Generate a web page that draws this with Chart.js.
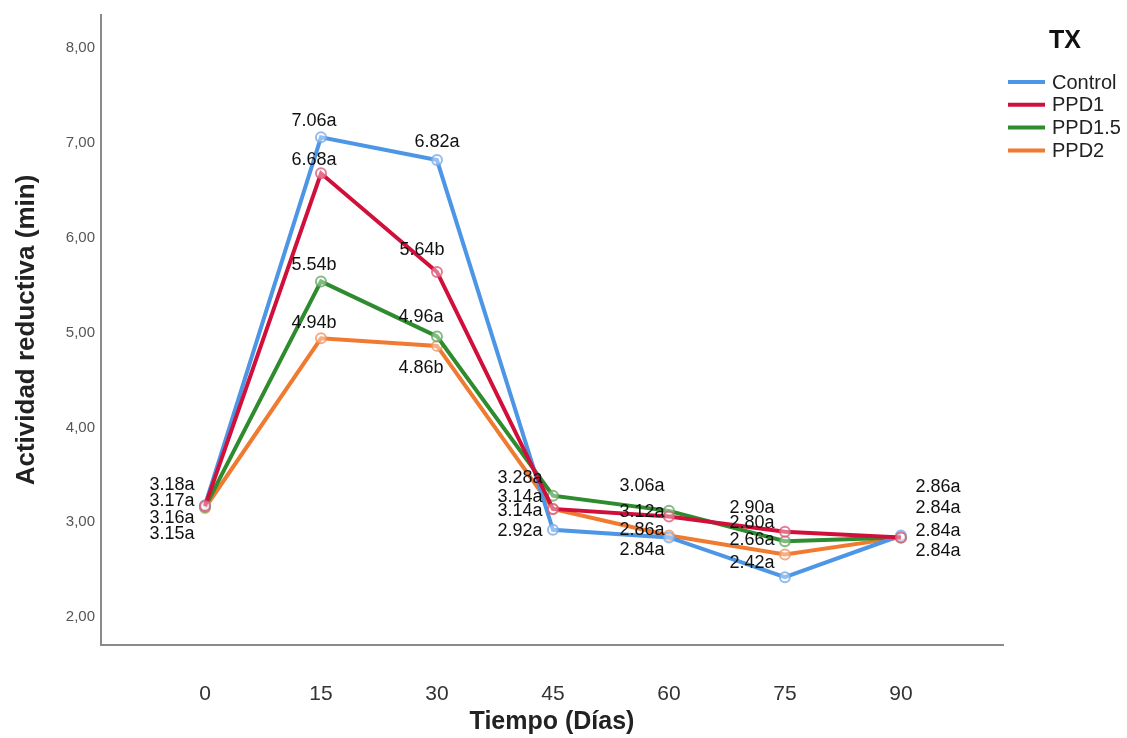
<!DOCTYPE html>
<html>
<head>
    <title>Actividad reductiva</title>
    <script src="https://cdn.jsdelivr.net/npm/chart.js"></script>
    <style>
        body { margin: 0; background: #fff; font-family: "Liberation Sans", Arial, sans-serif; }
        #chart { display: block; }
    </style>
</head>
<body>
    <canvas id="chart" width="1127" height="738"></canvas>

    <script>
        // data
        const days = [0, 15, 30, 45, 60, 75, 90];
        const yTicks = [2, 3, 4, 5, 6, 7, 8];
        const seriesNames = ['Control', 'PPD1', 'PPD1.5', 'PPD2'];
        const control = [3.18, 7.06, 6.82, 2.92, 2.84, 2.42, 2.86];
        const ppd1 = [3.17, 6.68, 5.64, 3.14, 3.06, 2.90, 2.84];
        const ppd15 = [3.16, 5.54, 4.96, 3.28, 3.12, 2.80, 2.84];
        const ppd2 = [3.15, 4.94, 4.86, 3.14, 2.86, 2.66, 2.84];
        // significance letters
        const lettersControl = ['a', 'a', 'a', 'a', 'a', 'a', 'a'];
        const lettersPpd1 = ['a', 'a', 'b', 'a', 'a', 'a', 'a'];
        const lettersPpd15 = ['a', 'b', 'a', 'a', 'a', 'a', 'a'];
        const lettersPpd2 = ['a', 'b', 'b', 'a', 'a', 'a', 'a'];

        const colors = ['#4d96e6', '#d0103a', '#2e8b2e', '#f07a30'];
        const pointColors = ['rgba(120,170,235,0.8)', 'rgba(225,90,120,0.8)', 'rgba(100,170,100,0.8)', 'rgba(240,150,100,0.8)'];

        // label placement relative to each point (px)
        const labelDx = [
            [-33, -7, 0, -33, -27, -33, 37],
            [-33, -7, -15, -33, -27, -33, 37],
            [-33, -7, -16, -33, -27, -33, 37],
            [-33, -7, -16, -33, -27, -33, 37]
        ];
        const labelDy = [
            [-20, -16, -18, 1, 13, -14, -48],
            [-5, -13, -22, -12, -31, -24, -29],
            [11, -16, -19, -18, 1, -18, -6],
            [26, -15, 22, 2, -5, -14, 14]
        ];

        const allValues = [control, ppd1, ppd15, ppd2];
        const allLetters = [lettersControl, lettersPpd1, lettersPpd15, lettersPpd2];
        const FONT = '"Liberation Sans", Arial, sans-serif';

        const datasets = allValues.map((vals, i) => ({
            label: seriesNames[i],
            data: vals.map((v, j) => ({ x: days[j], y: v })),
            borderColor: colors[i],
            backgroundColor: colors[i],
            borderWidth: 4,
            pointRadius: 5,
            pointBorderWidth: 2,
            pointBorderColor: pointColors[i],
            pointBackgroundColor: 'rgba(255,255,255,0.4)',
            tension: 0,
            fill: false,
            order: [1, 0, 2, 3][i]
        }));

        // value labels next to the points
        const valueLabels = {
            id: 'valueLabels',
            afterDatasetsDraw(chart) {
                const ctx = chart.ctx;
                ctx.save();
                ctx.font = '18px ' + FONT;
                ctx.fillStyle = '#111';
                ctx.textAlign = 'center';
                ctx.textBaseline = 'middle';
                chart.data.datasets.forEach((ds, i) => {
                    const meta = chart.getDatasetMeta(i);
                    meta.data.forEach((pt, j) => {
                        const text = allValues[i][j].toFixed(2) + allLetters[i][j];
                        ctx.fillText(text, pt.x + labelDx[i][j], pt.y + labelDy[i][j]);
                    });
                });
                ctx.restore();
            }
        };

        // legend on the right with "TX" title
        const sideLegend = {
            id: 'sideLegend',
            afterDraw(chart) {
                const ctx = chart.ctx;
                const x0 = chart.chartArea.right + 5;
                ctx.save();
                ctx.fillStyle = '#111';
                ctx.font = 'bold 25px ' + FONT;
                ctx.textAlign = 'center';
                ctx.textBaseline = 'middle';
                ctx.fillText('TX', x0 + 57, 41);
                ctx.font = '20px ' + FONT;
                ctx.textAlign = 'left';
                chart.data.datasets.forEach((ds, i) => {
                    const y = 82 + i * 22.8;
                    ctx.strokeStyle = ds.borderColor;
                    ctx.lineWidth = 4;
                    ctx.beginPath();
                    ctx.moveTo(x0, y);
                    ctx.lineTo(x0 + 37, y);
                    ctx.stroke();
                    ctx.fillStyle = '#222';
                    ctx.fillText(ds.label, x0 + 44, y + 1);
                });
                ctx.restore();
            }
        };

        new Chart(document.getElementById('chart'), {
            type: 'line',
            data: { datasets },
            plugins: [valueLabels, sideLegend],
            options: {
                responsive: false,
                animation: false,
                layout: { padding: { top: 14, right: 124, left: 0, bottom: 0 } },
                plugins: {
                    legend: { display: false },
                    tooltip: { enabled: false }
                },
                scales: {
                    x: {
                        type: 'linear',
                        min: -13.45,
                        max: 103.2,
                        afterBuildTicks: s => { s.ticks = days.map(v => ({ value: v })); },
                        afterFit: s => { s.height = 93; },
                        grid: { display: false, drawTicks: false },
                        border: { display: true, color: '#8a8a8a', width: 2 },
                        ticks: {
                            padding: 37,
                            color: '#333',
                            font: { size: 21, family: FONT },
                            callback: v => String(v)
                        },
                        title: {
                            display: true,
                            text: 'Tiempo (Días)',
                            color: '#222',
                            padding: { top: 4, bottom: 1 },
                            font: { size: 25, weight: 'bold', family: FONT }
                        }
                    },
                    y: {
                        min: 1.705,
                        max: 8.35,
                        afterBuildTicks: s => { s.ticks = yTicks.map(v => ({ value: v })); },
                        afterFit: s => { s.width = 101; },
                        grid: { display: false, drawTicks: false },
                        border: { display: true, color: '#8a8a8a', width: 2 },
                        ticks: {
                            padding: 6,
                            color: '#555',
                            font: { size: 15, family: FONT },
                            callback: v => v.toFixed(2).replace('.', ',')
                        },
                        title: {
                            display: true,
                            text: 'Actividad reductiva (min)',
                            color: '#222',
                            padding: { top: 11, bottom: 4 },
                            font: { size: 26, weight: 'bold', family: FONT }
                        }
                    }
                }
            }
        });
    </script>
</body>
</html>
